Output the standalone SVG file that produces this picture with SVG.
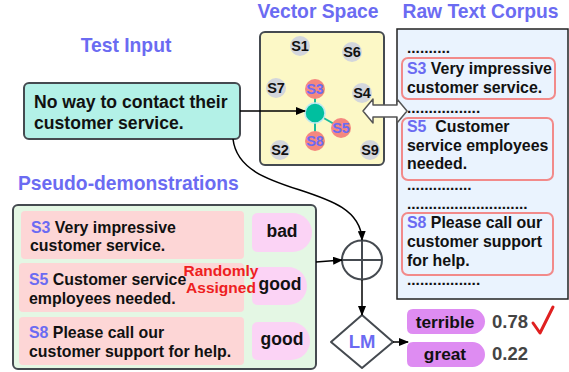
<svg xmlns="http://www.w3.org/2000/svg" width="569" height="372" viewBox="0 0 569 372">
<defs>
<marker id="ah" markerWidth="10" markerHeight="8" refX="9" refY="4" orient="auto" markerUnits="userSpaceOnUse">
<path d="M0,0 L10,4 L0,8 Z" fill="#000"/>
</marker>
<style>
text{font-family:"Liberation Sans",Arial,sans-serif;font-weight:bold;}
.title{font-size:19.3px;fill:#6b6bf2;}
.t{font-size:15.9px;fill:#111;}
.s{fill:#6b6bf2;}
.dot{font-size:15.5px;fill:#111;}
.vl{font-size:14.5px;text-anchor:middle;}
.gc{fill:#d3d6dc;}
.rc{fill:#f4877f;}
.row{fill:#fdd6d6;}
.lab{fill:#fbd3f5;}
.out{fill:#de8cf2;}
.rb{fill:none;stroke:#f28a8a;stroke-width:2;}
.conn{fill:none;stroke:#000;stroke-width:1.5;}
</style>
</defs>
<rect width="569" height="372" fill="#fff"/>

<text class="title" x="126" y="52" text-anchor="middle">Test Input</text>
<text class="title" x="318" y="18" text-anchor="middle">Vector Space</text>
<text class="title" x="480.5" y="18" text-anchor="middle">Raw Text Corpus</text>
<text class="title" x="18" y="190">Pseudo-demonstrations</text>

<g id="test-input">
<rect x="24" y="83" width="216" height="56" rx="5" fill="#b3f1e7" stroke="#454a50" stroke-width="2"/>
<text x="34" y="108" style="font-size:17.6px" fill="#111">No way to contact their</text>
<text x="34" y="129" style="font-size:17.6px" fill="#111">customer service.</text>
</g>

<g id="vector-space">
<rect x="260" y="32" width="124" height="133" rx="5" fill="#fcf8c6" stroke="#454a50" stroke-width="2"/>
<g stroke="#1abc9c" stroke-width="2">
<line x1="315" y1="113" x2="315" y2="89"/>
<line x1="315" y1="113" x2="315" y2="141"/>
<line x1="315" y1="113" x2="341" y2="128"/>
</g>
<circle class="gc" cx="300" cy="46" r="10"/>
<circle class="gc" cx="352" cy="52" r="10"/>
<circle class="gc" cx="276" cy="88" r="10"/>
<circle class="gc" cx="362" cy="93" r="10"/>
<circle class="gc" cx="280" cy="150" r="10"/>
<circle class="gc" cx="370" cy="150" r="10"/>
<circle class="rc" cx="315" cy="89" r="10"/>
<circle class="rc" cx="341" cy="128" r="10"/>
<circle class="rc" cx="315" cy="141" r="10"/>
<circle cx="315" cy="113" r="10" fill="#00bf9f" stroke="#bfe9f0" stroke-width="1.5"/>
<text class="vl" x="300" y="51" fill="#111">S1</text>
<text class="vl" x="352" y="57" fill="#111">S6</text>
<text class="vl" x="276" y="93" fill="#111">S7</text>
<text class="vl" x="362" y="98" fill="#111">S4</text>
<text class="vl" x="280" y="155" fill="#111">S2</text>
<text class="vl" x="370" y="155" fill="#111">S9</text>
<text class="vl s" x="315" y="94">S3</text>
<text class="vl s" x="341" y="133">S5</text>
<text class="vl s" x="315" y="146">S8</text>
</g>

<g id="raw-text-corpus">
<rect x="397" y="29" width="171" height="270" fill="#eaf3fe" stroke="#222" stroke-width="1.5"/>
<text class="dot" x="407" y="53">..........</text>
<rect class="rb" x="402" y="58" width="153" height="41" rx="6"/>
<text class="t" x="407" y="74"><tspan class="s">S3</tspan> Very impressive</text>
<text class="t" x="407" y="93">customer service.</text>
<text class="dot" x="407" y="113">.................</text>
<rect class="rb" x="402" y="118" width="151" height="62" rx="6"/>
<text class="t" x="407" y="132" xml:space="preserve"><tspan class="s">S5</tspan>  Customer</text>
<text class="t" x="407" y="150.5">service employees</text>
<text class="t" x="407" y="169">needed.</text>
<text class="dot" x="407" y="190">...............</text>
<text class="dot" x="407" y="209">............................</text>
<rect class="rb" x="402" y="213" width="151" height="62" rx="6"/>
<text class="t" x="407" y="228"><tspan class="s">S8</tspan> Please call our</text>
<text class="t" x="407" y="247">customer support</text>
<text class="t" x="407" y="266">for help.</text>
<text class="dot" x="407" y="285">.................</text>
</g>

<g id="retrieval-arrow">
<path d="M363,111 L373,99 L373,105 L397,105 L397,99 L407,111 L397,123 L397,117 L373,117 L373,123 Z" fill="#fff" stroke="#555" stroke-width="1.5" stroke-linejoin="round"/>
</g>

<g id="pseudo-demonstrations">
<rect x="13" y="205" width="303" height="164" rx="5" fill="#e4f7e4" stroke="#454a50" stroke-width="2"/>
<rect class="row" x="21" y="211" width="223" height="48" rx="4"/>
<rect class="row" x="19" y="263" width="225" height="49" rx="4"/>
<rect class="row" x="19" y="317" width="225" height="48" rx="4"/>
<path class="lab" d="M258,213 H292.5 A19.5,19.5 0 0 1 292.5,252 H258 Q252,252 252,246 V219 Q252,213 258,213 Z"/>
<path class="lab" d="M258,267 H288 A19,19 0 0 1 288,305 H258 Q252,305 252,299 V273 Q252,267 258,267 Z"/>
<path class="lab" d="M258,322 H291 A19,19 0 0 1 291,360 H258 Q252,360 252,354 V328 Q252,322 258,322 Z"/>
<text class="t" x="31" y="233"><tspan class="s">S3</tspan> Very impressive</text>
<text class="t" x="30" y="251">customer service.</text>
<text class="t" x="29" y="285"><tspan class="s">S5</tspan> Customer service</text>
<text class="t" x="29" y="304">employees needed.</text>
<text class="t" x="29" y="338"><tspan class="s">S8</tspan> Please call our</text>
<text class="t" x="29" y="357">customer support for help.</text>
<text x="282" y="237" text-anchor="middle" style="font-size:17.5px" fill="#111">bad</text>
<text x="280" y="290" text-anchor="middle" style="font-size:17.5px" fill="#111">good</text>
<text x="282" y="345" text-anchor="middle" style="font-size:17.5px" fill="#111">good</text>
<text x="221" y="276" text-anchor="middle" style="font-size:15.5px" fill="#ee2020">Randomly</text>
<text x="221" y="293" text-anchor="middle" style="font-size:15.5px" fill="#ee2020">Assigned</text>
</g>

<g id="concat">
<ellipse cx="362" cy="260" rx="20" ry="19.5" fill="#fff" stroke="#454a50" stroke-width="2"/>
<line x1="342" y1="260" x2="382" y2="260" stroke="#454a50" stroke-width="2"/>
<line x1="362" y1="240.5" x2="362" y2="279.5" stroke="#454a50" stroke-width="2"/>
</g>

<g id="lm">
<path d="M362,315 L393,342 L362,368 L331,342 Z" fill="#fff" stroke="#454a50" stroke-width="2" stroke-linejoin="round"/>
<text x="362" y="348" text-anchor="middle" style="font-size:18.5px" fill="#6b6bf2">LM</text>
</g>

<g id="outputs">
<path class="out" d="M413,309 H472.5 A12.5,12.5 0 0 1 472.5,334 H413 Q407,334 407,328 V315 Q407,309 413,309 Z"/>
<path class="out" d="M413,342 H472.5 A12.5,12.5 0 0 1 472.5,367 H413 Q407,367 407,361 V348 Q407,342 413,342 Z"/>
<text x="445" y="328" text-anchor="middle" style="font-size:17.3px" fill="#111">terrible</text>
<text x="445" y="360" text-anchor="middle" style="font-size:17.3px" fill="#111">great</text>
<text x="492" y="328" style="font-size:18.5px" fill="#444">0.78</text>
<text x="492" y="360" style="font-size:18.5px" fill="#444">0.22</text>
<path d="M533,323 L540,333 L553,307" fill="none" stroke="#e02020" stroke-width="3" stroke-linecap="round" stroke-linejoin="round"/>
</g>

<g id="connectors">
<path class="conn" d="M240,111 L305,111" marker-end="url(#ah)"/>
<path class="conn" d="M233,139 C240,200 360,180 362,240" marker-end="url(#ah)"/>
<path class="conn" d="M316,262 L342,260" marker-end="url(#ah)"/>
<path class="conn" d="M362,280 L362,315" marker-end="url(#ah)"/>
<path class="conn" d="M393,342 L408,342" marker-end="url(#ah)"/>
</g>
</svg>
